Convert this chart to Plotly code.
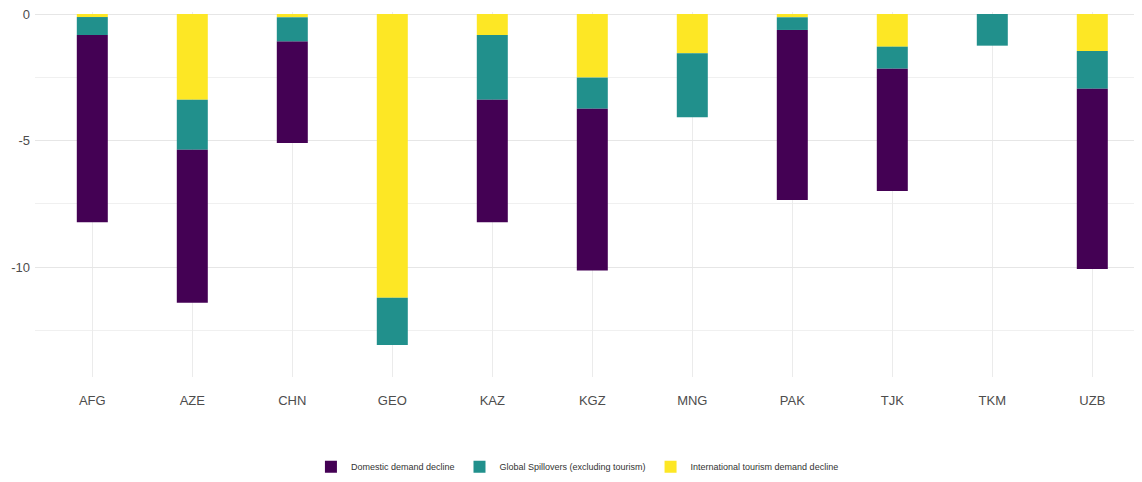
import plotly.graph_objects as go

countries = ["AFG", "AZE", "CHN", "GEO", "KAZ", "KGZ", "MNG", "PAK", "TJK", "TKM", "UZB"]
tourism = [-0.12, -3.39, -0.13, -11.20, -0.83, -2.51, -1.55, -0.13, -1.29, 0.0, -1.46]
spillovers = [-0.71, -1.97, -0.96, -1.87, -2.56, -1.23, -2.53, -0.50, -0.87, -1.25, -1.49]
domestic = [-7.39, -6.04, -4.00, 0.0, -4.83, -6.39, 0.0, -6.71, -4.83, 0.0, -7.12]

series_names = ["International tourism demand decline",
                "Global Spillovers (excluding tourism)",
                "Domestic demand decline"]
series_colors = ["#FDE725", "#21908C", "#440154"]
y_ticks = [0, -5, -10]
y_minor = [-2.5, -7.5, -12.5]

FONT = "Liberation Sans Narrow, Arial Narrow, Liberation Sans, Arial, sans-serif"

fig = go.Figure()
for name, vals, col, rank in zip(series_names, [tourism, spillovers, domestic], series_colors, [3, 2, 1]):
    fig.add_trace(go.Bar(x=countries, y=vals, name=name, marker=dict(color=col, line=dict(width=0)),
                         width=0.31, legendrank=rank))

fig.update_layout(
    width=1134, height=474,
    barmode="relative",
    plot_bgcolor="white", paper_bgcolor="white",
    margin=dict(l=27, r=0, t=4, b=105),
    font=dict(family=FONT, color="#4d4d4d"),
    showlegend=True,
    legend=dict(orientation="h", x=0.49, xanchor="center", y=-0.206, yanchor="top",
                font=dict(size=9, color="#333333"), itemwidth=30, traceorder="normal"),
    xaxis=dict(range=[-0.573, 10.497], showgrid=True, gridcolor="#ebebeb", gridwidth=1,
               zeroline=False, showline=False, ticks="", tickfont=dict(size=13, color="#4d4d4d"),
               ticklabelstandoff=14),
    yaxis=dict(range=[-14.33, 0.079], tickvals=y_ticks, ticktext=[str(v) for v in y_ticks],
               showgrid=True, gridcolor="#e6e6e6", gridwidth=1.1,
               minor=dict(tickvals=y_minor, showgrid=True, gridcolor="#f0f0f0", gridwidth=0.6),
               zeroline=False, showline=False, ticks="", tickfont=dict(size=13, color="#4d4d4d"),
               ticklabelstandoff=4, ticklabeloverflow="allow"),
)

fig.write_html("out.html")
